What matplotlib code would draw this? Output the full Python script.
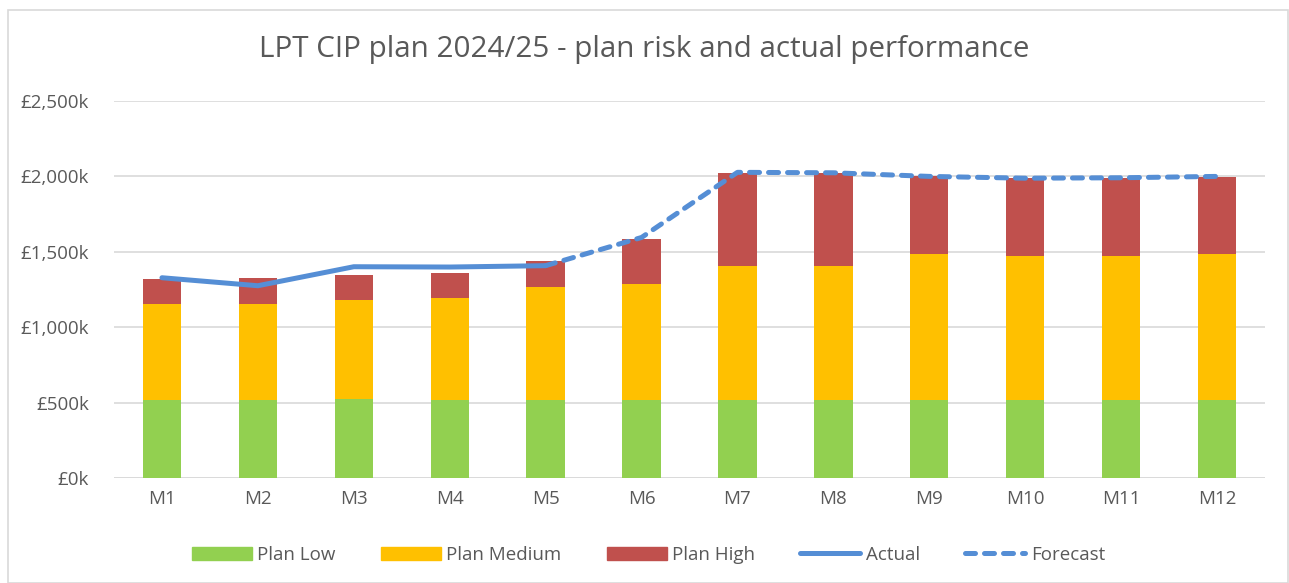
import numpy as np
import matplotlib.pyplot as plt
from matplotlib.patches import Rectangle
from matplotlib.lines import Line2D
from matplotlib.ticker import FuncFormatter

plt.rcParams['font.family'] = ['Open Sans', 'DejaVu Sans']

# data (values in £k)
months = ['M1', 'M2', 'M3', 'M4', 'M5', 'M6', 'M7', 'M8', 'M9', 'M10', 'M11', 'M12']
plan_low = [520, 520, 522, 516, 520, 520, 520, 520, 520, 520, 520, 520]
plan_medium_top = [1151, 1157, 1180, 1191, 1268, 1284, 1403, 1403, 1483, 1474, 1474, 1483]
plan_high_top = [1321, 1328, 1348, 1361, 1439, 1587, 2023, 2022, 2001, 1988, 1992, 1999]
actual = [1328, 1275, 1401, 1399, 1408]
forecast = [1408, 1595, 2027, 2024, 2000, 1988, 1991, 2000]

plan_medium = [t - l for t, l in zip(plan_medium_top, plan_low)]
plan_high = [h - m for h, m in zip(plan_high_top, plan_medium_top)]

GREEN = '#92D050'
YELLOW = '#FFC000'
RED = '#C0504D'
BLUE = '#558ED5'
TEXT = '#595959'

fig = plt.figure(figsize=(12.89, 5.83), dpi=100)
ax = fig.add_axes([114 / 1289, 1 - 478 / 583, (1265 - 114) / 1289, (478 - 101) / 583])

x = np.arange(len(months))
w = 0.40
ax.bar(x, plan_low, w, color=GREEN, label='Plan Low', zorder=2)
ax.bar(x, plan_medium, w, bottom=plan_low, color=YELLOW, label='Plan Medium', zorder=2)
ax.bar(x, plan_high, w, bottom=plan_medium_top, color=RED, label='Plan High', zorder=2)

dash = (0, (2.0, 1.8))
ax.plot(x[:5], actual, color=BLUE, lw=3.6, solid_capstyle='round',
        solid_joinstyle='round', zorder=3, label='Actual')
ax.plot(x[4:], forecast, color=BLUE, lw=3.6, ls=dash,
        dash_capstyle='round', zorder=3, label='Forecast')

ax.set_xlim(-0.5, len(months) - 0.5)
ax.set_ylim(0, 2500)
ax.set_yticks(np.arange(0, 2501, 500))
ax.yaxis.set_major_formatter(FuncFormatter(lambda v, p: '£{:,.0f}k'.format(v)))
ax.set_xticks(x)
ax.set_xticklabels(months)
ax.tick_params(axis='both', length=0, labelsize=13.5, colors=TEXT, pad=9)
ax.tick_params(axis='y', pad=18)
ax.grid(axis='y', color='#D9D9D9', lw=1.2, zorder=0)
ax.set_axisbelow(True)
for s in ax.spines.values():
    s.set_visible(False)
ax.axhline(0, color='#D9D9D9', lw=1.2, zorder=1)

fig.text(0.5, 1 - 50 / 583, 'LPT CIP plan 2024/25 - plan risk and actual performance',
         ha='center', va='center', fontsize=21.3, color=TEXT)

handles = [
    Rectangle((0, 0), 1, 1, color=GREEN),
    Rectangle((0, 0), 1, 1, color=YELLOW),
    Rectangle((0, 0), 1, 1, color=RED),
    Line2D([], [], color=BLUE, lw=3.6, solid_capstyle='round'),
    Line2D([], [], color=BLUE, lw=3.6, ls=dash, dash_capstyle='round'),
]
labels = ['Plan Low', 'Plan Medium', 'Plan High', 'Actual', 'Forecast']
fig.legend(handles, labels, loc='center', bbox_to_anchor=(0.503, 1 - 555 / 583),
           ncol=5, frameon=False, fontsize=13.5, labelcolor=TEXT,
           handlelength=3.2, handleheight=0.75, handletextpad=0.3, columnspacing=2.4)

fig.patches.append(Rectangle((8 / 1289, 0), 1 - 8 / 1289 - 0.001, 1 - 10 / 583,
                             transform=fig.transFigure, fill=False,
                             edgecolor='#D9D9D9', lw=1.2))

fig.savefig('out.png', dpi=100)
